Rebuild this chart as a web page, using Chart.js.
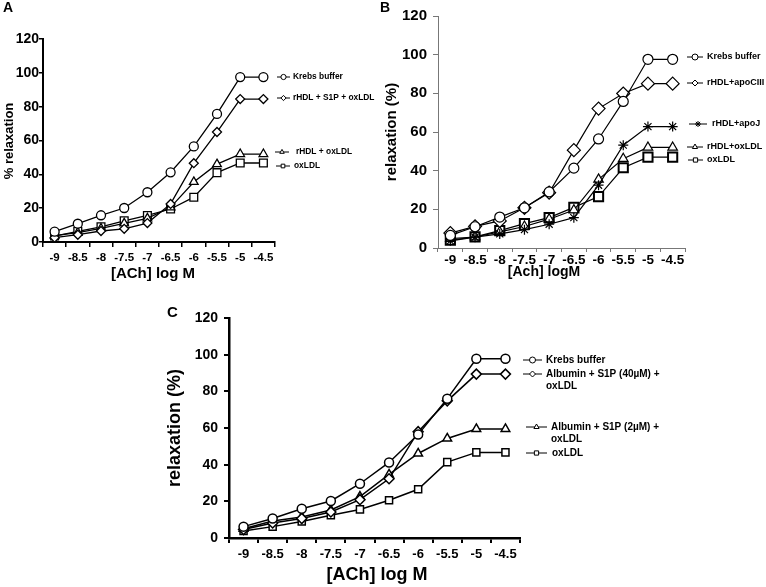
<!DOCTYPE html>
<html>
<head>
<meta charset="utf-8">
<script src="https://cdn.jsdelivr.net/npm/chart.js@4.4.1/dist/chart.umd.min.js"></script>
<style>
    body { margin: 0; background: #fff; width: 766px; height: 587px; position: relative; overflow: hidden; }
    canvas { position: absolute; }
    #chartA { left: 0; top: 0; width: 380px; height: 290px; }
    #chartB { left: 380px; top: 0; width: 386px; height: 290px; }
    #chartC { left: 150px; top: 290px; width: 616px; height: 297px; }
</style>
</head>
<body>
<canvas id="chartA" width="380" height="290"></canvas>
<canvas id="chartB" width="386" height="290"></canvas>
<canvas id="chartC" width="616" height="297"></canvas>
<script>
// x categories: [ACh] log M
const doseLabels = ['-9', '-8.5', '-8', '-7.5', '-7', '-6.5', '-6', '-5.5', '-5', '-4.5'];
const yMax = 120;
const yStep = 20;

// Panel A
const krebsA    = [6.1, 10.8, 15.8, 20.1, 29.4, 41.2, 56.5, 75.7, 97.5, 97.5];
const rhdlS1pA  = [2.6, 4.3, 6.5, 7.8, 11.2, 22.5, 46.6, 65.0, 84.5, 84.5];
const rhdlOxA   = [3.8, 5.6, 8.0, 11.0, 14.0, 20.5, 35.5, 46.0, 52.0, 52.0];
const oxLdlA    = [3.5, 6.3, 9.0, 12.5, 15.7, 19.5, 26.5, 41.0, 46.7, 46.7];

// Panel B
const krebsB    = [6.5, 11.0, 16.0, 20.8, 29.0, 41.3, 56.4, 75.8, 97.6, 97.6];
const apoCIIIB  = [7.7, 11.2, 14.0, 20.8, 28.6, 50.6, 72.1, 79.9, 85.0, 85.0];
const apoJB     = [3.7, 5.6, 7.3, 9.5, 12.3, 15.7, 32.5, 53.2, 62.8, 62.8];
const rhdlOxB   = [4.8, 5.7, 8.3, 11.1, 14.9, 19.6, 35.5, 46.2, 52.0, 52.0];
const oxLdlB    = [4.0, 5.8, 9.0, 12.6, 15.7, 21.0, 26.6, 41.5, 47.0, 47.0];

// Panel C
const krebsC    = [6.2, 10.6, 16.0, 20.2, 29.6, 41.2, 56.4, 76.0, 97.8, 97.8];
const alb40C    = [4.6, 8.2, 10.6, 14.2, 20.9, 32.3, 58.0, 74.8, 89.4, 89.4];
const alb2C     = [5.1, 9.3, 11.5, 15.3, 22.6, 34.7, 46.1, 54.3, 59.5, 59.5];
const oxLdlC    = [3.8, 6.2, 9.0, 12.4, 15.6, 20.6, 26.6, 41.4, 46.7, 46.7];

const FONT = '"Liberation Sans", Arial, sans-serif';
Chart.defaults.font.family = FONT;
Chart.defaults.font.weight = 'bold';
Chart.defaults.color = '#000';

// legend drawn beside the line ends, one row per dataset
const sideLegend = {
    id: 'sideLegend',
    afterDraw(chart, args, opts) {
        const ctx = chart.ctx;
        ctx.save();
        chart.data.datasets.forEach((ds, i) => {
            const row = opts.rows[i];
            ctx.strokeStyle = '#000';
            ctx.lineWidth = opts.lineWidth;
            ctx.beginPath();
            ctx.moveTo(row.x0, row.y);
            ctx.lineTo(row.x1, row.y);
            ctx.stroke();
            ctx.fillStyle = '#fff';
            Chart.helpers.drawPoint(ctx, {
                pointStyle: ds.pointStyle, rotation: 0,
                radius: opts.pointRadius, borderWidth: opts.lineWidth
            }, (row.x0 + row.x1) / 2, row.y);
            ctx.fillStyle = '#000';
            ctx.font = 'bold ' + opts.fontSize + 'px ' + FONT;
            ctx.textAlign = 'left';
            ctx.textBaseline = 'middle';
            ds.legendLines.forEach((line, k) => {
                ctx.fillText(line, row.tx, row.y + k * opts.lineGap);
            });
        });
        ctx.restore();
    }
};

// axis titles and the panel letter
const panelText = {
    id: 'panelText',
    afterDraw(chart, args, opts) {
        const ctx = chart.ctx;
        opts.items.forEach(t => {
            ctx.save();
            ctx.translate(t.x, t.y);
            if (t.rot) ctx.rotate(t.rot);
            ctx.fillStyle = '#000';
            ctx.font = 'bold ' + t.size + 'px ' + FONT;
            ctx.textAlign = 'center';
            ctx.textBaseline = 'middle';
            ctx.fillText(t.text, 0, 0);
            ctx.restore();
        });
    }
};

function buildChart(id, p) {
    return new Chart(document.getElementById(id), {
        type: 'line',
        data: {
            labels: doseLabels,
            datasets: p.series.map(s => ({
                label: s.lines.join(' '),
                legendLines: s.lines,
                data: s.data,
                borderColor: '#000',
                backgroundColor: '#fff',
                borderWidth: p.lineWidth,
                pointStyle: s.style,
                pointRadius: s.radius,
                pointBorderWidth: s.border || p.lineWidth,
                pointBackgroundColor: '#fff',
                pointBorderColor: '#000',
                tension: 0,
                fill: false
            }))
        },
        options: {
            responsive: false,
            animation: false,
            events: [],
            layout: { padding: { left: 0, top: p.top, right: p.right, bottom: 0 } },
            plugins: {
                legend: { display: false },
                tooltip: { enabled: false },
                sideLegend: p.legend,
                panelText: { items: p.texts }
            },
            scales: {
                x: {
                    offset: true,
                    grid: { offset: true, drawOnChartArea: false, color: p.axisColor, lineWidth: p.tickWidth, tickLength: p.xTickLen },
                    border: { color: p.axisColor, width: p.axisWidth },
                    ticks: { color: '#000', font: { size: p.xTickFont, weight: 'bold' }, padding: p.xTickPad, maxRotation: 0, autoSkip: false },
                    afterFit: s => { s.height = p.xHeight; }
                },
                y: {
                    min: 0,
                    max: yMax,
                    ticks: { stepSize: yStep, color: '#000', font: { size: p.yTickFont, weight: 'bold' }, padding: p.yTickPad },
                    grid: { drawOnChartArea: false, color: p.axisColor, lineWidth: p.tickWidth, tickLength: p.yTickLen },
                    border: { color: p.axisColor, width: p.axisWidth },
                    afterFit: s => { s.width = p.yWidth; }
                }
            }
        },
        plugins: [sideLegend, panelText]
    });
}

buildChart('chartA', {
    top: 39, right: 105, yWidth: 43, xHeight: 48,
    xTickFont: 11.5, yTickFont: 14, xTickLen: 5, yTickLen: 4, xTickPad: 4, yTickPad: 0,
    axisColor: '#000', axisWidth: 2, tickWidth: 1.5, lineWidth: 1.3,
    series: [
        { lines: ['Krebs buffer'], data: krebsA, style: 'circle', radius: 4.5 },
        { lines: ['rHDL + S1P + oxLDL'], data: rhdlS1pA, style: 'rectRot', radius: 4.5 },
        { lines: ['rHDL + oxLDL'], data: rhdlOxA, style: 'triangle', radius: 5 },
        { lines: ['oxLDL'], data: oxLdlA, style: 'rect', radius: 5.5 }
    ],
    legend: {
        fontSize: 8.4, lineWidth: 1, pointRadius: 2.6, lineGap: 12,
        rows: [
            { y: 77, x0: 277, x1: 290, tx: 293 },
            { y: 98, x0: 277, x1: 290, tx: 293 },
            { y: 152, x0: 275, x1: 289, tx: 296 },
            { y: 166, x0: 276, x1: 290, tx: 294 }
        ]
    },
    texts: [
        { text: 'A', x: 8, y: 8, size: 14 },
        { text: '[ACh] log M', x: 153, y: 274, size: 15 },
        { text: '% relaxation', x: 9.5, y: 141, size: 13, rot: -Math.PI / 2 }
    ]
});

buildChart('chartB', {
    top: 16, right: 81, yWidth: 58, xHeight: 42,
    xTickFont: 13.5, yTickFont: 15, xTickLen: 4, yTickLen: 5, xTickPad: 0, yTickPad: 6,
    axisColor: '#777', axisWidth: 1, tickWidth: 1, lineWidth: 1.2,
    series: [
        { lines: ['Krebs buffer'], data: krebsB, style: 'circle', radius: 5 },
        { lines: ['rHDL+apoCIII'], data: apoCIIIB, style: 'rectRot', radius: 6.5 },
        { lines: ['rHDL+apoJ'], data: apoJB, style: 'star', radius: 5 },
        { lines: ['rHDL+oxLDL'], data: rhdlOxB, style: 'triangle', radius: 5.5 },
        { lines: ['oxLDL'], data: oxLdlB, style: 'rect', radius: 6.5, border: 2 }
    ],
    legend: {
        fontSize: 9, lineWidth: 1, pointRadius: 3, lineGap: 12,
        rows: [
            { y: 57, x0: 307, x1: 323, tx: 327 },
            { y: 83, x0: 307, x1: 323, tx: 327 },
            { y: 124, x0: 309, x1: 327, tx: 332 },
            { y: 147, x0: 307, x1: 323, tx: 327 },
            { y: 160, x0: 308, x1: 323, tx: 327 }
        ]
    },
    texts: [
        { text: 'B', x: 5, y: 8, size: 14 },
        { text: '[Ach] logM', x: 164, y: 272, size: 14 },
        { text: 'relaxation (%)', x: 12, y: 132, size: 15, rot: -Math.PI / 2 }
    ]
});

buildChart('chartC', {
    top: 28, right: 246, yWidth: 79, xHeight: 49,
    xTickFont: 13, yTickFont: 14, xTickLen: 5, yTickLen: 5, xTickPad: 4, yTickPad: 6,
    axisColor: '#000', axisWidth: 2.5, tickWidth: 2, lineWidth: 1.5,
    series: [
        { lines: ['Krebs buffer'], data: krebsC, style: 'circle', radius: 4.5 },
        { lines: ['Albumin + S1P (40µM) +', 'oxLDL'], data: alb40C, style: 'rectRot', radius: 5 },
        { lines: ['Albumin + S1P (2µM) +', 'oxLDL'], data: alb2C, style: 'triangle', radius: 5 },
        { lines: ['oxLDL'], data: oxLdlC, style: 'rect', radius: 5 }
    ],
    legend: {
        fontSize: 10, lineWidth: 1, pointRadius: 3, lineGap: 12,
        rows: [
            { y: 70, x0: 373, x1: 392, tx: 396 },
            { y: 84, x0: 373, x1: 392, tx: 396 },
            { y: 137, x0: 376, x1: 397, tx: 401 },
            { y: 163, x0: 376, x1: 397, tx: 402 }
        ]
    },
    texts: [
        { text: 'C', x: 22.5, y: 23, size: 15 },
        { text: '[ACh] log M', x: 227, y: 285, size: 18 },
        { text: 'relaxation (%)', x: 25, y: 138, size: 18, rot: -Math.PI / 2 }
    ]
});
</script>
</body>
</html>
